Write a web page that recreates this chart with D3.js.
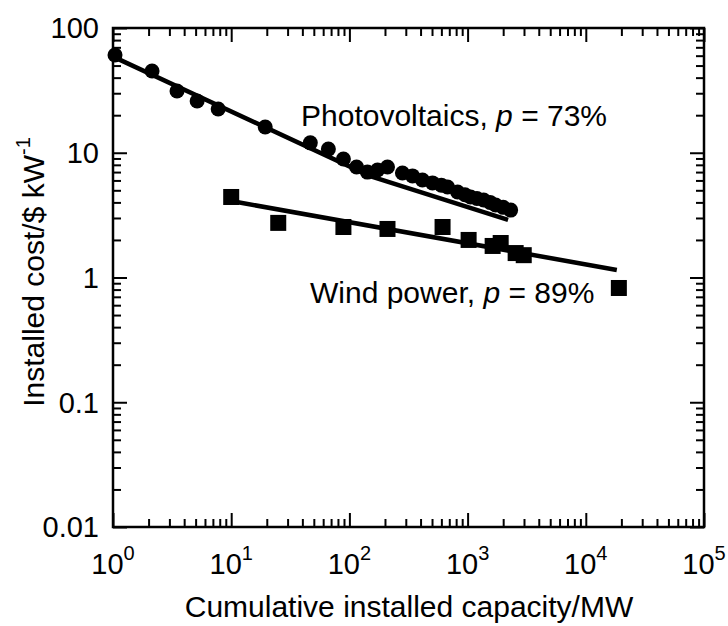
<!DOCTYPE html>
<html>
<head>
<meta charset="utf-8">
<script src="https://cdn.jsdelivr.net/npm/d3@7"></script>
<style>
  body { margin: 0; background: #fff; }
  text { font-family: 'Liberation Sans', Arial, Helvetica, sans-serif; fill: #000; }
</style>
</head>
<body>
<script>
// photovoltaics: cumulative capacity (MW) and installed cost
const pvCapacity = [1.04, 2.14, 3.48, 5.15, 7.76, 19.4, 46.7, 66.4, 89, 115, 142, 173, 210, 281, 342, 415, 505, 600, 677, 823, 950, 1060, 1200, 1367, 1550, 1727, 2000, 2314];
const pvCost     = [60.7, 45.2, 31.3, 26.0, 22.4, 16.1, 12.0, 10.7, 8.9, 7.69, 7.0, 7.27, 7.69, 6.89, 6.52, 6.05, 5.73, 5.5, 5.31, 4.84, 4.6, 4.42, 4.3, 4.18, 4.0, 3.81, 3.65, 3.47];

// wind power
const windCapacity = [10.0, 25.0, 89, 210, 614, 1020, 1629, 1905, 2550, 2985, 19040];
const windCost     = [4.42, 2.74, 2.54, 2.45, 2.54, 2.0, 1.79, 1.89, 1.57, 1.51, 0.824];

// fitted experience curves
const pvFitCapacity = [1, 150, 2200];
const pvFitCost     = [59, 6.5, 2.9];
const windFitCapacity = [10, 18300];
const windFitCost     = [4.1, 1.15];

const xTicks = [1, 10, 100, 1000, 10000, 100000];
const xTickExp = ['0', '1', '2', '3', '4', '5'];
const yTicks = [0.01, 0.1, 1, 10, 100];
const yTickLabels = ['0.01', '0.1', '1', '10', '100'];

const width = 728;
const height = 626;
const padLeft = 113, padRight = 704, padTop = 28, padBottom = 527;

const svg = d3.select('body').append('svg')
  .attr('width', width)
  .attr('height', height);

const x = d3.scaleLog().domain([1, 1e5]).range([padLeft, padRight]);
const y = d3.scaleLog().domain([0.01, 100]).range([padBottom, padTop]);

// minor tick positions 2..9 in each decade
const minorX = [];
xTicks.slice(0, -1).forEach(t => { for (let k = 2; k < 10; k++) minorX.push(t * k); });
const minorY = [];
yTicks.slice(0, -1).forEach(t => { for (let k = 2; k < 10; k++) minorY.push(t * k); });

const majorLen = 14, minorLen = 8;

function drawAxis(axis, tx, ty) {
  const g = svg.append('g')
    .attr('transform', 'translate(' + tx + ',' + ty + ')')
    .call(axis);
  g.select('.domain').remove();
  g.selectAll('line').attr('stroke', '#000').attr('stroke-width', 2);
  g.selectAll('text').remove();
}

// inward ticks on all four sides
drawAxis(d3.axisTop(x).tickValues(xTicks).tickSize(majorLen), 0, padBottom);
drawAxis(d3.axisTop(x).tickValues(minorX).tickSize(minorLen), 0, padBottom);
drawAxis(d3.axisBottom(x).tickValues(xTicks).tickSize(majorLen), 0, padTop);
drawAxis(d3.axisBottom(x).tickValues(minorX).tickSize(minorLen), 0, padTop);
drawAxis(d3.axisRight(y).tickValues(yTicks).tickSize(majorLen), padLeft, 0);
drawAxis(d3.axisRight(y).tickValues(minorY).tickSize(minorLen), padLeft, 0);
drawAxis(d3.axisLeft(y).tickValues(yTicks).tickSize(majorLen), padRight, 0);
drawAxis(d3.axisLeft(y).tickValues(minorY).tickSize(minorLen), padRight, 0);

// frame
svg.append('rect')
  .attr('x', padLeft).attr('y', padTop)
  .attr('width', padRight - padLeft).attr('height', padBottom - padTop)
  .attr('fill', 'none')
  .attr('stroke', '#000')
  .attr('stroke-width', 2.5);

// y tick labels
svg.selectAll('.ylab')
  .data(yTicks)
  .enter()
  .append('text')
  .attr('class', 'ylab')
  .attr('x', padLeft - 14)
  .attr('y', d => y(d))
  .attr('dy', '0.36em')
  .attr('text-anchor', 'end')
  .attr('font-size', 29)
  .text((d, i) => yTickLabels[i]);

// x tick labels 10^n
const xlab = svg.selectAll('.xlab')
  .data(xTicks)
  .enter()
  .append('text')
  .attr('class', 'xlab')
  .attr('x', d => x(d))
  .attr('y', 574)
  .attr('text-anchor', 'middle')
  .attr('font-size', 29);
xlab.append('tspan').text('10');
xlab.append('tspan')
  .attr('font-size', 20)
  .attr('dy', -14)
  .text((d, i) => xTickExp[i]);

// axis titles
svg.append('text')
  .attr('x', 409)
  .attr('y', 617)
  .attr('text-anchor', 'middle')
  .attr('font-size', 30)
  .text('Cumulative installed capacity/MW');

const yTitle = svg.append('text')
  .attr('transform', 'translate(44,272) rotate(-90)')
  .attr('text-anchor', 'middle')
  .attr('font-size', 30);
yTitle.append('tspan').text('Installed cost/$ kW');
yTitle.append('tspan').attr('font-size', 20).attr('dy', -14).text('-1');

// fit lines
const line = d3.line().x(d => x(d[0])).y(d => y(d[1]));

svg.append('path')
  .datum(pvFitCapacity.map((c, i) => [c, pvFitCost[i]]))
  .attr('d', line)
  .attr('fill', 'none')
  .attr('stroke', '#000')
  .attr('stroke-width', 4.5);

svg.append('path')
  .datum(windFitCapacity.map((c, i) => [c, windFitCost[i]]))
  .attr('d', line)
  .attr('fill', 'none')
  .attr('stroke', '#000')
  .attr('stroke-width', 4.5);

// PV points
svg.selectAll('.pv')
  .data(pvCapacity.map((c, i) => [c, pvCost[i]]))
  .enter()
  .append('circle')
  .attr('class', 'pv')
  .attr('cx', d => x(d[0]))
  .attr('cy', d => y(d[1]))
  .attr('r', 7.5)
  .attr('fill', '#000');

// wind points
const sq = 16;
svg.selectAll('.wind')
  .data(windCapacity.map((c, i) => [c, windCost[i]]))
  .enter()
  .append('rect')
  .attr('class', 'wind')
  .attr('x', d => x(d[0]) - sq / 2)
  .attr('y', d => y(d[1]) - sq / 2)
  .attr('width', sq)
  .attr('height', sq)
  .attr('fill', '#000');

// series labels
const pvLabel = svg.append('text')
  .attr('x', 301)
  .attr('y', 126)
  .attr('font-size', 30);
pvLabel.append('tspan').text('Photovoltaics, ');
pvLabel.append('tspan').attr('font-style', 'italic').text('p');
pvLabel.append('tspan').text(' = 73%');

const windLabel = svg.append('text')
  .attr('x', 310)
  .attr('y', 303)
  .attr('font-size', 30);
windLabel.append('tspan').text('Wind power, ');
windLabel.append('tspan').attr('font-style', 'italic').text('p');
windLabel.append('tspan').text(' = 89%');
</script>
</body>
</html>
